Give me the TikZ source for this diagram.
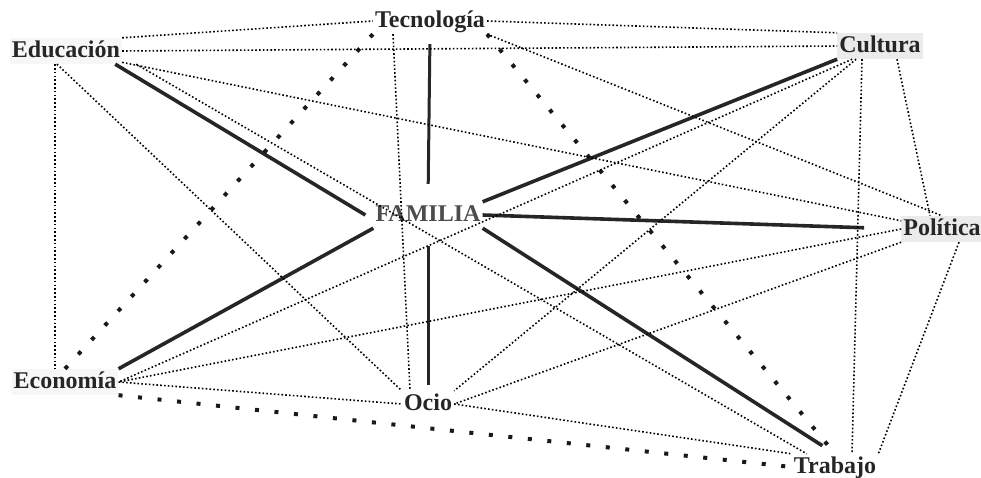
\documentclass[tikz,border=0pt]{standalone}
\usepackage{fontspec}
\setmainfont{Liberation Serif}
\usepackage{xcolor}
\usetikzlibrary{positioning}

\begin{document}
\begin{tikzpicture}[x=1pt,y=-1pt,
  word/.style={font=\fontsize{24}{24}\selectfont\bfseries,text=black!85,inner sep=2pt,text height=17pt,text depth=5pt},
  shade/.style={word,fill=black!8},
  spoke/.style={draw=black!85,line width=3.6pt},
  bigdots/.style={draw=black!90,line width=4pt,dash pattern=on 4pt off 15.6pt},
  thin/.style={draw=black,line width=1.6pt,dash pattern=on 1.6pt off 2.2pt}]

    \useasboundingbox (0,0) rectangle (981,477);

    % The graph
	\node [word] at (430,21) (tec) {Tecnología};
	\node [word,fill=black!3] at (66,51) (edu) {Educación};
	\node [shade] at (880,46) (cul) {Cultura};

	\node [word,text=black!70] at (428,215) (fam) {FAMILIA};
	\node [shade] at (942,229) (pol) {Política};

	\node [word,fill=black!3] at (65,382) (eco) {Economía};
	\node [word] at (428,404) (oci) {Ocio};
	\node [word] at (835,467) (tra) {Trabajo};

	% Graph edges
	\path[spoke]
	([xshift=-7pt]edu.south east) edge ([xshift=-8pt]fam.west)
	(tec.south) edge[line width=3pt,shorten <=10pt,shorten >=18pt] (fam.north)
	(fam.north east) edge (cul.south west)
	(fam.east) edge[shorten >=37pt] (pol.west)
	(fam.south east) edge[shorten >=15pt] (tra.north)
	(fam.south) edge[line width=3pt,shorten <=18pt,shorten >=6pt] (oci.north)
	(fam.south west) edge (eco.north east);

	\path[bigdots]
	(eco.north) edge (tec.south west)
	(tec.south east) edge (tra.north)
	(eco.south east) edge (tra.west);

	\path[thin]
	(edu.north east) edge (tec.west)
	(edu.east) edge (cul.west)
	(edu) edge (pol)
	([xshift=14pt]edu.south east) edge ([xshift=15pt]tra.north west)
	([xshift=-9pt]edu.south) edge (oci.north west)
	([xshift=-11pt]edu.south) edge ([xshift=-10pt]eco.north)
	(tec.east) edge (cul.north west)
	(tec.south east) edge (pol.north)
	([xshift=-37pt]tec.south) edge ([xshift=-18pt]oci.north)
	([xshift=15pt]cul.south west) edge (eco.east)
	([xshift=19pt]cul.south west) edge (oci.north east)
	([xshift=-18pt]cul.south) edge ([xshift=17pt]tra.north)
	([xshift=17pt]cul.south) edge ([xshift=-12pt]pol.north)
	(pol.west) edge (eco.east)
	(pol.south west) edge (oci.east)
	([xshift=17pt]pol.south) edge (tra.north east)
	(oci.east) edge (tra.north west)
	(eco.east) edge (oci.west);

\end{tikzpicture}
\end{document}
